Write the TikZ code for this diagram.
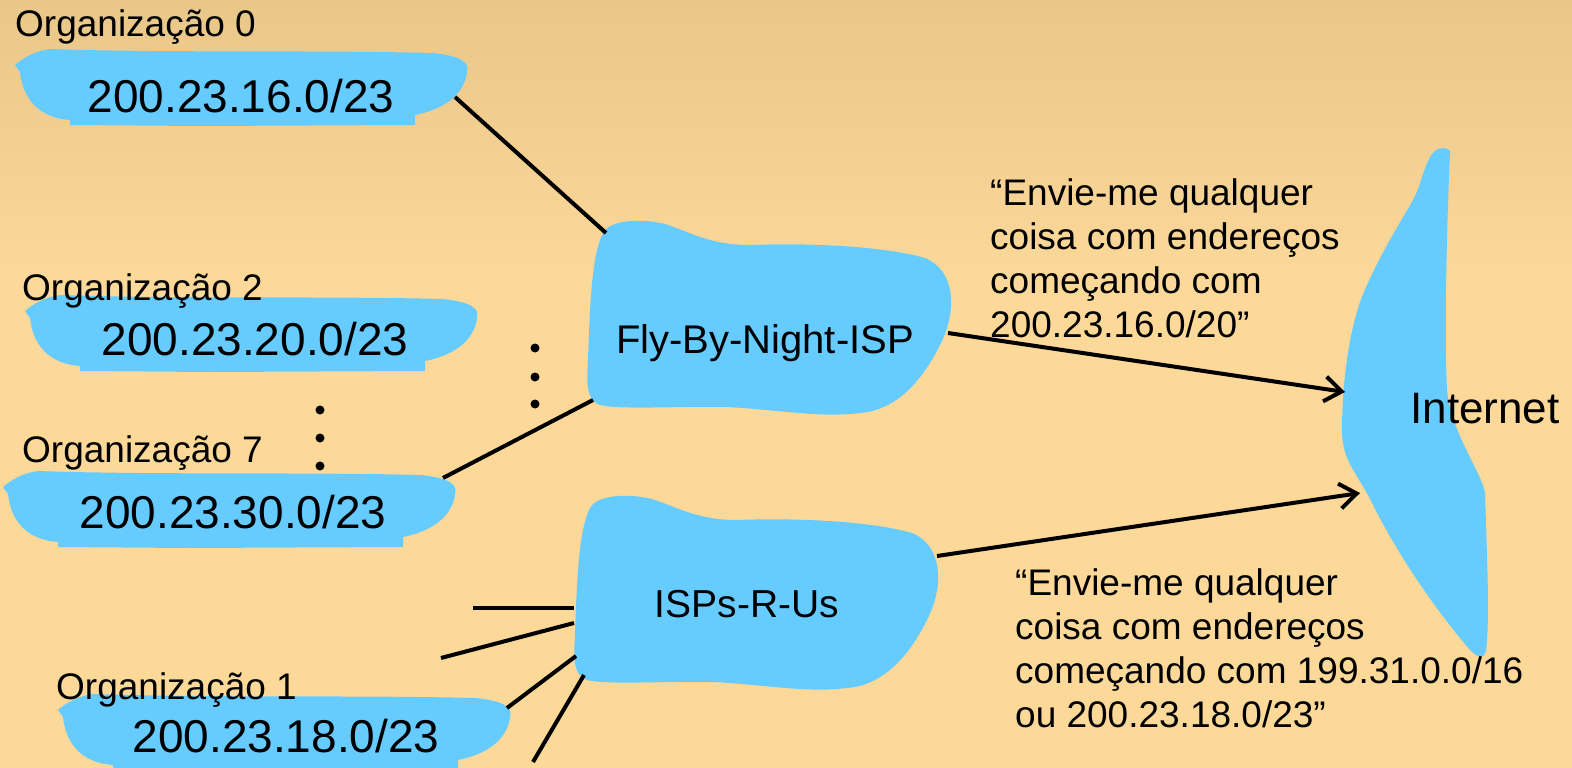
\documentclass[tikz,border=0pt]{standalone}
\usepackage{fontspec}
\setmainfont{Liberation Sans}
\usetikzlibrary{arrows.meta}
\definecolor{bgtop}{RGB}{233,199,137}
\definecolor{bgbot}{RGB}{252,216,153}
\definecolor{cloudblue}{RGB}{102,204,255}
\newcommand\ipfnt{\fontsize{46}{54}\selectfont}
\newcommand\lblfnt{\fontsize{37}{44}\selectfont}
\tikzset{
  ip/.style={inner sep=0pt, font=\ipfnt, anchor=base},
  lbl/.style={inner sep=0pt, font=\lblfnt, anchor=base west},
  cloudtxt/.style={inner sep=0pt, anchor=base},
  conn/.style={line width=4pt, black},
  arr/.style={conn, -{Straight Barb[length=17pt,width=25pt]}},
  dotmark/.style={fill=black},
  orgblob/.pic={
    \fill[cloudblue] (0,15) .. controls (8,8) and (20,1) .. (35,-1)
      .. controls (150,3) and (300,0) .. (418,3)
      .. controls (445,6) and (455,12) .. (452,22)
      .. controls (450,40) and (435,58) .. (400,65)
      -- (400,75) -- (185,76) -- (55,75) -- (55,70)
      .. controls (25,68) and (8,50) .. (5,22) -- cycle;
  },
  ispblob/.pic={
    \fill[cloudblue] (16,13) .. controls (23,0) and (53,-2) .. (78,4)
      .. controls (103,12) and (123,25) .. (163,25)
      .. controls (213,23) and (293,25) .. (338,38)
      .. controls (368,50) and (371,90) .. (353,125)
      .. controls (338,155) and (313,190) .. (273,193)
      .. controls (233,198) and (193,190) .. (140,187)
      .. controls (93,186) and (33,190) .. (13,185)
      .. controls (-2,180) and (0,160) .. (1,140)
      .. controls (3,80) and (5,35) .. (16,13) -- cycle;
  }
}
\begin{document}
\begin{tikzpicture}[x=1pt,y=-1pt]
\useasboundingbox (0,0) rectangle (1572,768);
% background
\fill[bgbot] (0,279) rectangle (1572,768);
\fill[top color=bgtop, bottom color=bgbot] (0,0) rectangle (1572,280);

% blobs
\pic at (15,50) {orgblob};
\pic at (25,296) {orgblob};
\pic at (3,472) {orgblob};
\pic at (58,695) {orgblob};
\pic at (587,220) {ispblob};
\pic at (574,495) {ispblob};
\fill[cloudblue] (1438,149) .. controls (1445,147) and (1450,149) .. (1450,152)
  .. controls (1447,220) and (1444,330) .. (1447,389)
  .. controls (1450,430) and (1480,470) .. (1485,492)
  .. controls (1487,560) and (1490,620) .. (1486,650)
  .. controls (1484,660) and (1478,658) .. (1470,650)
  .. controls (1440,615) and (1400,560) .. (1370,499)
  .. controls (1355,470) and (1342,460) .. (1342,430)
  .. controls (1342,380) and (1350,320) .. (1367,285)
  .. controls (1385,245) and (1405,215) .. (1413,200)
  .. controls (1422,185) and (1425,155) .. (1438,149) -- cycle;

% organisation labels and prefixes
\node[lbl] (l0) at (15,37) {Organização 0};
\node[ip] (ip0) at (241,113) {200.23.16.0/23};
\node[lbl] (l2) at (22,300) {Organização 2};
\node[ip] (ip2) at (255,355) {200.23.20.0/23};
\node[lbl] (l7) at (22,462) {Organização 7};
\node[ip] (ip7) at (233,528) {200.23.30.0/23};
\node[lbl] (l1) at (56,699) {Organização 1};
\node[ip] (ip1) at (286,752) {200.23.18.0/23};

% ISP and Internet labels
\node[cloudtxt, font=\fontsize{40}{48}\selectfont] (fly) at (765,353) {Fly-By-Night-ISP};
\node[cloudtxt, font=\fontsize{39}{46}\selectfont] (isp) at (747,617) {ISPs-R-Us};
\node[cloudtxt, font=\fontsize{44}{52}\selectfont] (inet) at (1485,423) {Internet};

% advertisement texts
\node[lbl] (a1) at (990,205) {“Envie-me qualquer};
\node[lbl] (a2) at (990,249) {coisa com endereços};
\node[lbl] (a3) at (990,293) {começando com};
\node[lbl] (a4) at (990,337) {200.23.16.0/20”};
\node[lbl] (b1) at (1015,595) {“Envie-me qualquer};
\node[lbl] (b2) at (1015,639) {coisa com endereços};
\node[lbl] (b3) at (1015,683) {começando com 199.31.0.0/16};
\node[lbl] (b4) at (1015,727) {ou 200.23.18.0/23”};

% dots
\foreach \yy in {410,438,466} \fill[dotmark] (320,\yy) circle (4.5);
\foreach \yy in {348,377,404} \fill[dotmark] (535,\yy) circle (4.5);

% connector end points
\coordinate (o0e) at (455,97);
\coordinate (flynw) at (606,233);
\coordinate (o7e) at (443,478);
\coordinate (flysw) at (593,400);
\coordinate (flye) at (948,333);
\coordinate (inw1) at (1345,392);
\coordinate (ispe) at (937,556);
\coordinate (inw2) at (1360,493);
\coordinate (f1) at (473,608);
\coordinate (i1) at (574,608);
\coordinate (f2) at (441,658);
\coordinate (i2) at (574,623);
\coordinate (o1e) at (507,708);
\coordinate (i3) at (576,656);
\coordinate (f4) at (533,762);
\coordinate (i4) at (584,675);

\draw[conn] (o0e) -- (flynw);
\draw[conn] (o7e) -- (flysw);
\draw[arr] (flye) -- (inw1);
\draw[arr] (ispe) -- (inw2);
\draw[conn] (f1) -- (i1);
\draw[conn] (f2) -- (i2);
\draw[conn] (o1e) -- (i3);
\draw[conn] (f4) -- (i4);
\end{tikzpicture}
\end{document}
